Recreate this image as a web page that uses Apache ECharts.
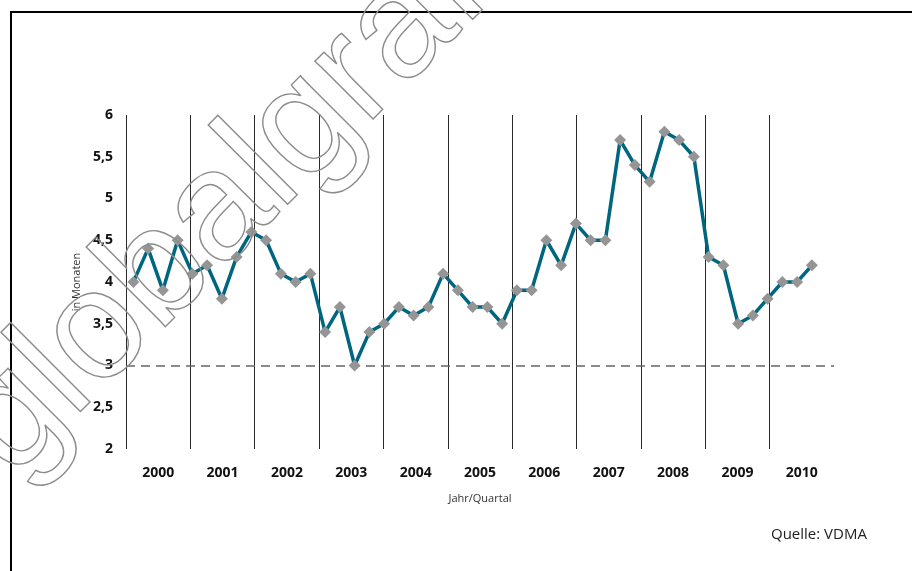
<!DOCTYPE html>
<html>
<head>
<meta charset="utf-8">
<script src="https://cdn.jsdelivr.net/npm/echarts@6/dist/echarts.min.js"></script>
<style>
html,body{margin:0;padding:0;background:#fff;}
#chart{width:912px;height:571px;}
</style>
</head>
<body>
<div id="chart"></div>
<script>
// Year labels (category boxes)
const years = ['2000','2001','2002','2003','2004','2005','2006','2007','2008','2009','2010'];
// Quarterly values (in Monaten), 47 points
const values = [
  4.0, 4.4, 3.9, 4.5, 4.1, 4.2, 3.8, 4.3, 4.6, 4.5,
  4.1, 4.0, 4.1, 3.4, 3.7, 3.0, 3.4, 3.5, 3.7, 3.6,
  3.7, 4.1, 3.9, 3.7, 3.7, 3.5, 3.9, 3.9, 4.5, 4.2,
  4.7, 4.5, 4.5, 5.7, 5.4, 5.2, 5.8, 5.7, 5.5, 4.3,
  4.2, 3.5, 3.6, 3.8, 4.0, 4.0, 4.2
];
const slotCount = 48;           // category slots on the data axis
const refLevel = 3;             // dashed reference line
const yMin = 2, yMax = 6, yStep = 0.5;
const axisTitleY = 'in Monaten';
const axisTitleX = 'Jahr/Quartal';
const sourceText = 'Quelle: VDMA';
const watermarkText = 'globalgrafiken';

const chart = echarts.init(document.getElementById('chart'), null, {renderer: 'canvas'});
const labelFont = '"Open Sans", "Noto Sans", sans-serif';

chart.setOption({
  animation: false,
  backgroundColor: '#ffffff',
  grid: {left: 126, right: 78, top: 115, bottom: 122, containLabel: false},
  xAxis: [
    {
      type: 'value', min: -0.5, max: slotCount - 0.5, show: false
    },
    {
      type: 'category', data: years, boundaryGap: true, position: 'bottom',
      axisLine: {show: false}, axisTick: {show: false},
      splitLine: {show: true, showMinLine: true, showMaxLine: false, interval: 0,
        lineStyle: {color: '#2a2a2a', width: 1}},
      axisLabel: {interval: 0, margin: 17, fontFamily: labelFont, fontWeight: 'bold',
        fontSize: 14, color: '#111'},
      name: axisTitleX, nameLocation: 'middle', nameGap: 44,
      nameTextStyle: {fontFamily: labelFont, fontSize: 11, color: '#333'}
    }
  ],
  yAxis: {
    type: 'value', min: yMin, max: yMax, interval: yStep,
    axisLine: {show: false}, axisTick: {show: false}, splitLine: {show: false},
    axisLabel: {margin: 13, fontFamily: labelFont, fontWeight: 'bold', fontSize: 14, color: '#111',
      formatter: v => String(v).replace('.', ',')},
    name: axisTitleY, nameLocation: 'middle', nameGap: 39, nameRotate: 90,
    nameTextStyle: {fontFamily: labelFont, fontSize: 11, color: '#333'}
  },
  series: [{
    type: 'line',
    xAxisIndex: 0,
    data: values.map((v, i) => [i, v]),
    symbol: 'diamond', symbolSize: 12, showSymbol: true,
    lineStyle: {color: '#006680', width: 3.5},
    itemStyle: {color: '#959595'},
    z: 3,
    markLine: {
      silent: true, symbol: 'none', label: {show: false},
      lineStyle: {color: '#666', width: 1.5, type: [9, 6]},
      data: [{yAxis: refLevel}],
      z: 1
    }
  }],
  graphic: [
    {type: 'line', shape: {x1: 10, y1: 12, x2: 912, y2: 12}, style: {stroke: '#000', lineWidth: 2}, z: 10},
    {type: 'line', shape: {x1: 11, y1: 12, x2: 11, y2: 571}, style: {stroke: '#000', lineWidth: 2}, z: 10},
    {type: 'text', left: 771, top: 527,
      style: {text: sourceText, font: '15px ' + labelFont, fill: '#222'}, z: 10},
    {type: 'text', x: -73, y: 395, rotation: Math.PI / 4,
      style: {text: watermarkText, font: '155px "Liberation Sans", Arial, sans-serif',
        fill: 'rgba(0,0,0,0)', stroke: '#8c8c8c', lineWidth: 1.4}, z: 20}
  ]
});
</script>
</body>
</html>
